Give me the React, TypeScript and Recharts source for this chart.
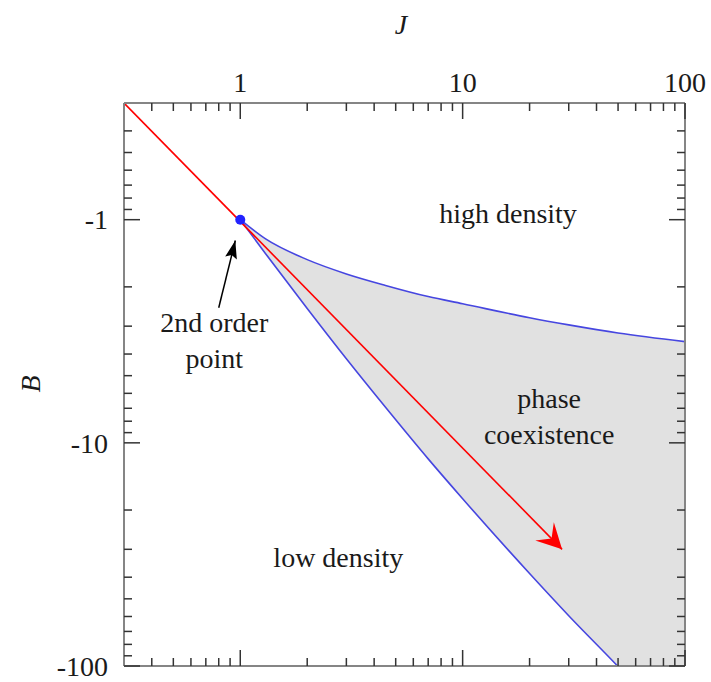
import { ComposedChart, XAxis, YAxis, Area, Line, Scatter } from 'recharts'

// B is negative everywhere, so the log axis works on |B| and the ticks get a minus sign
const jGrid = [1, 1.3, 2, 3, 4.5, 7, 10, 20, 30, 50, 100]
const upperNegB = [1, 1.22, 1.51, 1.75, 1.97, 2.21, 2.38, 2.75, 2.96, 3.22, 3.52]
const lowerNegB = [1, 1.42, 2.5, 4.2, 6.93, 11.8, 17.8, 38.5, 59.5, 100.5, 212]

// red path B = -J
const pathJ = [0.3, 28]
const pathNegB = [0.3, 30]

// 2nd order point
const pointJ = [1]
const pointNegB = [1]

// black pointer to the point
const pointerJ = [0.8, 0.95]
const pointerNegB = [2.48, 1.24]

const labelText = [['high density'], ['phase', 'coexistence'], ['low density'], ['2nd order', 'point']]
const labelJ = [16, 24.5, 2.76, 0.764]
const labelNegB = [1.04, 7.0, 36, 3.2]

const majorTicks = [1, 10, 100]
const allTicks = [
  0.4, 0.5, 0.6, 0.7, 0.8, 0.9, 1,
  2, 3, 4, 5, 6, 7, 8, 9, 10,
  20, 30, 40, 50, 60, 70, 80, 90, 100,
]

const W = 711
const H = 682
const TOP = 103
const BOTTOM_H = 16
const LEFT = 124
const RIGHT_W = 26
const PLOT_BOTTOM = H - BOTTOM_H
const PLOT_RIGHT = W - RIGHT_W
const MAJOR_LEN = 16
const MINOR_LEN = 8

const FONT = '"Liberation Serif", "Times New Roman", serif'
const FRAME = '#858585'
const TICK = '#333'
const TEXT = '#1a1a1a'
const BLUE = '#4646e0'
const RED = '#ff0000'

const curve = jGrid.map((J, i) => ({ J, upper: upperNegB[i], lower: lowerNegB[i], band: [upperNegB[i], lowerNegB[i]] }))
const path = pathJ.map((J, i) => ({ J, negB: pathNegB[i] }))
const point = pointJ.map((J, i) => ({ J, negB: pointNegB[i] }))
const pointer = pointerJ.map((J, i) => ({ J, negB: pointerNegB[i] }))
const labels = labelText.map((lines, i) => ({ J: labelJ[i], negB: labelNegB[i], lines }))

const isMajor = (v: number) => majorTicks.includes(v)

function TopTick({ x, payload }: any) {
  const major = isMajor(payload.value)
  return (
    <g>
      <line x1={x} x2={x} y1={TOP} y2={TOP + (major ? MAJOR_LEN : MINOR_LEN)} stroke={TICK} strokeWidth={1.5} />
      {major && (
        <text x={x} y={TOP - 11} textAnchor="middle" fontSize={28} fontFamily={FONT} fill={TEXT}>
          {payload.value}
        </text>
      )}
    </g>
  )
}

function BottomTick({ x, payload }: any) {
  const len = isMajor(payload.value) ? MAJOR_LEN : MINOR_LEN
  return <line x1={x} x2={x} y1={PLOT_BOTTOM} y2={PLOT_BOTTOM - len} stroke={TICK} strokeWidth={1.5} />
}

function LeftTick({ y, payload }: any) {
  const major = isMajor(payload.value)
  return (
    <g>
      <line x1={LEFT} x2={LEFT + (major ? MAJOR_LEN : MINOR_LEN)} y1={y} y2={y} stroke={TICK} strokeWidth={1.5} />
      {major && (
        <text x={LEFT - 16} y={y} dy="0.35em" textAnchor="end" fontSize={28} fontFamily={FONT} fill={TEXT}>
          {'-' + payload.value}
        </text>
      )}
    </g>
  )
}

function RightTick({ y, payload }: any) {
  const len = isMajor(payload.value) ? MAJOR_LEN : MINOR_LEN
  return <line x1={PLOT_RIGHT} x2={PLOT_RIGHT - len} y1={y} y2={y} stroke={TICK} strokeWidth={1.5} />
}

// arrow head drawn on the last point of a line, pointing along the last segment
function arrowDot(color: string, len: number, half: number, notch: number) {
  return (props: any) => {
    const { cx, cy, index, points } = props
    const last = points ? points.length - 1 : 1
    if (index !== last || cx == null) return <g key={index} />
    let angle = Math.PI / 4
    if (points && points[index - 1]) {
      const prev = points[index - 1]
      angle = Math.atan2(cy - prev.y, cx - prev.x)
    }
    const deg = (angle * 180) / Math.PI
    return (
      <polygon
        key={index}
        points={`0,0 ${-len},${-half} ${-notch},0 ${-len},${half}`}
        transform={`translate(${cx},${cy}) rotate(${deg})`}
        fill={color}
        stroke="none"
      />
    )
  }
}

function RegionLabel({ cx, cy, payload }: any) {
  return (
    <text x={cx} y={cy} textAnchor="middle" fontSize={28} fontFamily={FONT} fill={TEXT}>
      {payload.lines.map((t: string, i: number) => (
        <tspan key={t} x={cx} dy={i === 0 ? 0 : 36}>
          {t}
        </tspan>
      ))}
    </text>
  )
}

export default function App() {
  return (
    <div style={{ position: 'absolute', left: 0, top: 0, fontFamily: FONT }}>
      <ComposedChart width={W} height={H} data={curve} margin={{ top: 0, right: 0, bottom: 0, left: 0 }}>
        <XAxis
          xAxisId="top"
          orientation="top"
          dataKey="J"
          type="number"
          scale="log"
          domain={[0.3, 100]}
          allowDataOverflow
          ticks={allTicks}
          interval={0}
          height={TOP}
          tickLine={false}
          axisLine={{ stroke: FRAME, strokeWidth: 2 }}
          tick={TopTick}
          label={{
            content: () => (
              <text x={401} y={34} textAnchor="middle" fontSize={28} fontStyle="italic" fontFamily={FONT} fill={TEXT}>
                J
              </text>
            ),
          }}
        />
        <XAxis
          xAxisId="bottom"
          orientation="bottom"
          dataKey="J"
          type="number"
          scale="log"
          domain={[0.3, 100]}
          allowDataOverflow
          ticks={allTicks}
          interval={0}
          height={BOTTOM_H}
          tickLine={false}
          axisLine={{ stroke: FRAME, strokeWidth: 2 }}
          tick={BottomTick}
        />
        <YAxis
          yAxisId="left"
          orientation="left"
          type="number"
          scale="log"
          domain={[0.3, 100]}
          reversed
          allowDataOverflow
          ticks={allTicks}
          interval={0}
          width={LEFT}
          tickLine={false}
          axisLine={{ stroke: FRAME, strokeWidth: 2 }}
          tick={LeftTick}
          label={{
            content: () => (
              <text
                x={40}
                y={384}
                textAnchor="middle"
                fontSize={28}
                fontStyle="italic"
                fontFamily={FONT}
                fill={TEXT}
                transform="rotate(-90 40 384)"
              >
                B
              </text>
            ),
          }}
        />
        <YAxis
          yAxisId="right"
          orientation="right"
          type="number"
          scale="log"
          domain={[0.3, 100]}
          reversed
          allowDataOverflow
          ticks={allTicks}
          interval={0}
          width={RIGHT_W}
          tickLine={false}
          axisLine={{ stroke: FRAME, strokeWidth: 2 }}
          tick={RightTick}
        />

        <Area
          xAxisId="top"
          yAxisId="left"
          dataKey="band"
          type="monotone"
          fill="#e1e1e1"
          fillOpacity={1}
          stroke="none"
          isAnimationActive={false}
        />
        <Line xAxisId="top" yAxisId="left" dataKey="upper" type="monotone" stroke={BLUE} strokeWidth={1.6} dot={false} isAnimationActive={false} />
        <Line xAxisId="top" yAxisId="left" dataKey="lower" type="monotone" stroke={BLUE} strokeWidth={1.6} dot={false} isAnimationActive={false} />

        <Line
          xAxisId="top"
          yAxisId="left"
          data={path}
          dataKey="negB"
          type="linear"
          stroke={RED}
          strokeWidth={1.6}
          dot={arrowDot(RED, 25, 13, 15)}
          activeDot={false}
          isAnimationActive={false}
        />
        <Line
          xAxisId="top"
          yAxisId="left"
          data={pointer}
          dataKey="negB"
          type="linear"
          stroke="#000"
          strokeWidth={1.5}
          dot={arrowDot('#000', 18, 6, 15)}
          activeDot={false}
          isAnimationActive={false}
        />
        <Scatter
          xAxisId="top"
          yAxisId="left"
          data={point}
          dataKey="negB"
          fill="#2222ff"
          shape={(p: any) => <circle cx={p.cx} cy={p.cy} r={5} fill="#2222ff" />}
          isAnimationActive={false}
        />
        <Scatter
          xAxisId="top"
          yAxisId="left"
          data={labels}
          dataKey="negB"
          shape={RegionLabel}
          isAnimationActive={false}
        />
      </ComposedChart>
    </div>
  )
}
